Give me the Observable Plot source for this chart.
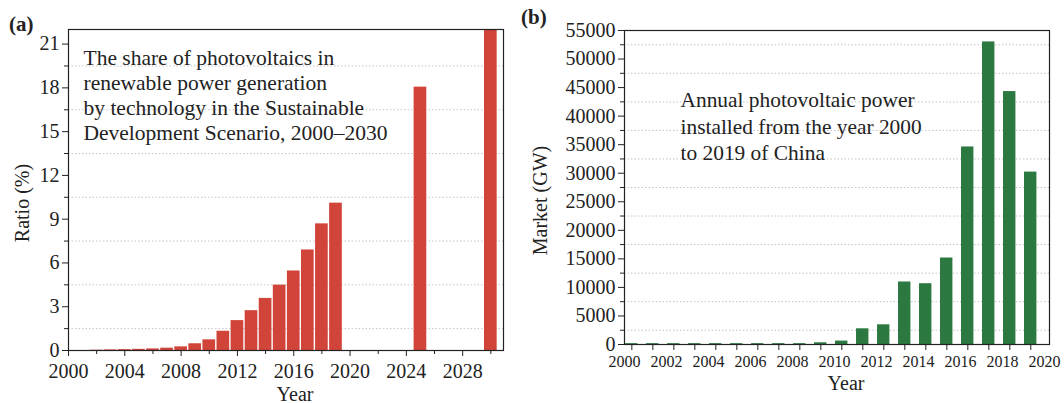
<!DOCTYPE html>
<html>
<head>
<meta charset="utf-8">
<script src="https://cdn.jsdelivr.net/npm/d3@7"></script>
<script src="https://cdn.jsdelivr.net/npm/@observablehq/plot@0.6"></script>
<style>
  html, body { margin: 0; padding: 0; background: #fff; }
  #wrap { position: relative; width: 1064px; height: 403px; overflow: hidden; font-family: "Liberation Serif", serif; color: #222; }
  .panel { position: absolute; top: 0; }
  .tag { position: absolute; font-weight: bold; font-size: 21px; font-family: "Liberation Serif", serif; color: #222; }
</style>
</head>
<body>
<div id="wrap">
  <div class="panel" id="pa" style="left:0"></div>
  <div class="panel" id="pb" style="left:520px"></div>
  <span class="tag" style="left:9px; top:12px">(a)</span>
  <span class="tag" style="left:521px; top:5px">(b)</span>
</div>
<script>
// ---- Panel (a) data: share of PV in renewable generation (%)
const yearsA = [2000, 2001, 2002, 2003, 2004, 2005, 2006, 2007, 2008, 2009, 2010, 2011, 2012, 2013, 2014, 2015, 2016, 2017, 2018, 2019, 2025, 2030];
const ratioA = [0, 0, 0.02, 0.04, 0.06, 0.08, 0.11, 0.16, 0.25, 0.46, 0.73, 1.32, 2.05, 2.73, 3.57, 4.48, 5.45, 6.89, 8.68, 10.1, 18.05, 22];
const xLabelsA = [2000, 2004, 2008, 2012, 2016, 2020, 2024, 2028];
const xMinorA = [2002, 2006, 2010, 2014, 2018, 2022, 2026, 2030];
const yLabelsA = [0, 3, 6, 9, 12, 15, 18, 21];
const yMinorA = [1.5, 4.5, 7.5, 10.5, 13.5, 16.5, 19.5];
const noteA = "The share of photovoltaics in\nrenewable power generation\nby technology in the Sustainable\nDevelopment Scenario, 2000\u20132030";

// ---- Panel (b) data: annual PV installed in China
const yearsB = [2000, 2001, 2002, 2003, 2004, 2005, 2006, 2007, 2008, 2009, 2010, 2011, 2012, 2013, 2014, 2015, 2016, 2017, 2018, 2019];
const marketB = [150, 150, 150, 150, 150, 150, 150, 150, 150, 300, 600, 2750, 3450, 10950, 10650, 15150, 34600, 53000, 44300, 30200];
const xLabelsB = [2000, 2002, 2004, 2006, 2008, 2010, 2012, 2014, 2016, 2018, 2020];
const yLabelsB = [0, 5000, 10000, 15000, 20000, 25000, 30000, 35000, 40000, 45000, 50000, 55000];
const yMinorB = [2500, 7500, 12500, 17500, 22500, 27500, 32500, 37500, 42500, 47500, 52500];
const noteB = "Annual photovoltaic power\ninstalled from the year 2000\nto 2019 of China";

const serif = "Liberation Serif, serif";
const gridStyle = {stroke: "#bdbdbd", strokeDasharray: "1.5,2", strokeWidth: 0.9};

const dataA = yearsA.map((year, i) => ({year, v: ratioA[i]}));
const plotA = Plot.plot({
  width: 520, height: 403,
  marginLeft: 68, marginRight: 17, marginTop: 29, marginBottom: 53,
  style: {fontFamily: serif, fontSize: "20px", color: "#222", background: "transparent"},
  x: {domain: [2000, 2030.9]},
  y: {domain: [0, 22]},
  marks: [
    Plot.ruleY(yMinorA, gridStyle),
    Plot.rectY(dataA, {x1: d => d.year - 0.5, x2: d => d.year + 0.5, y: "v", fill: "#d1443a", insetLeft: 0.7, insetRight: 0.7}),
    Plot.axisX(xLabelsA, {tickSize: 6, tickPadding: 7, tickFormat: d => String(d), fontSize: 20, label: null}),
    Plot.axisX(xMinorA, {tickSize: 4, tickFormat: () => "", label: null}),
    Plot.axisY(yLabelsA, {tickSize: 6, tickPadding: 3, tickFormat: d => String(d), fontSize: 20, label: null}),
    Plot.axisY(yMinorA, {tickSize: 4, tickFormat: () => "", label: null}),
    Plot.frame({stroke: "#222", strokeWidth: 1.2}),
    Plot.text(["Ratio (%)"], {frameAnchor: "left", dx: -46, dy: 13, rotate: -90, textAnchor: "middle", lineAnchor: "middle", fontSize: 20, fill: "#222"}),
    Plot.text(["Year"], {frameAnchor: "bottom", dx: 9, dy: 50, fontSize: 20, fill: "#222"}),
    Plot.text([noteA], {frameAnchor: "top-left", dx: 15, dy: 18, lineAnchor: "top", textAnchor: "start", fontSize: 21.5, lineHeight: 1.163, fill: "#222"})
  ]
});
document.getElementById("pa").appendChild(plotA);

const dataB = yearsB.map((year, i) => ({year, v: marketB[i]}));
const plotB = Plot.plot({
  width: 544, height: 403,
  marginLeft: 104, marginRight: 15, marginTop: 30, marginBottom: 59,
  style: {fontFamily: serif, fontSize: "20px", color: "#222", background: "transparent"},
  x: {domain: [2000, 2020.24]},
  y: {domain: [0, 55000]},
  marks: [
    Plot.ruleY(yMinorB, gridStyle),
    Plot.rectY(dataB, {x1: d => d.year + 0.05, x2: d => d.year + 0.64, y: "v", fill: "#2b7841"}),
    Plot.axisX(yearsB.map(d => d + 0.35), {tickSize: 6, tickFormat: () => "", label: null}),
    Plot.axisX(xLabelsB, {tickSize: 0, tickPadding: 11, tickFormat: d => String(d), fontSize: 16, label: null}),
    Plot.axisY(yLabelsB, {tickSize: 6, tickPadding: 3, tickFormat: d => String(d), fontSize: 20, label: null}),
    Plot.axisY(yMinorB, {tickSize: 4, tickFormat: () => "", label: null}),
    Plot.frame({stroke: "#222", strokeWidth: 1.2}),
    Plot.text(["Market (GW)"], {frameAnchor: "left", dx: -84, dy: 13, rotate: -90, textAnchor: "middle", lineAnchor: "middle", fontSize: 20, fill: "#222"}),
    Plot.text(["Year"], {frameAnchor: "bottom", dx: 9, dy: 45, fontSize: 20, fill: "#222"}),
    Plot.text([noteB], {frameAnchor: "top-left", dx: 56, dy: 58, lineAnchor: "top", textAnchor: "start", fontSize: 21.4, lineHeight: 1.23, fill: "#222"})
  ]
});
document.getElementById("pb").appendChild(plotB);
</script>
</body>
</html>
